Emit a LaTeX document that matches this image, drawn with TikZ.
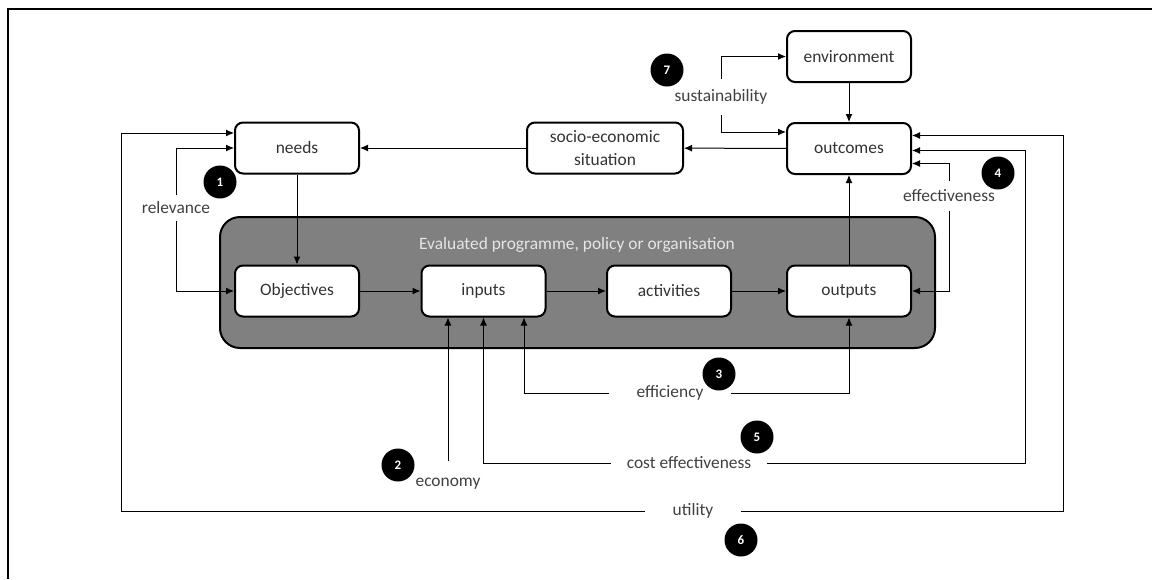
\documentclass[tikz,border=0pt]{standalone}
\usepackage{fontspec}
\setmainfont{Carlito}
\usetikzlibrary{arrows.meta}
\begin{document}
\begin{tikzpicture}[x=0.5pt,y=-0.5pt,
  every node/.style={font=\fontsize{8.7}{10}\selectfont},
  >={Latex[length=4pt,width=3.5pt]},
  every path/.style={line width=0.5pt},
  box/.style={draw=black,line width=1pt,fill=white,rounded corners=4pt,text=black!80,
    minimum width=62pt,minimum height=25.5pt,inner sep=0pt,align=center},
  crit/.style={text=black!75,inner xsep=1pt,inner ysep=1pt},
  num/.style={circle,fill=black,text=white,inner sep=0pt,minimum size=16.5pt,
    font=\fontsize{6.5}{7}\selectfont\bfseries}]
\useasboundingbox (0,0) rectangle (1152,579);
\draw[line width=0.75pt] (8,579) -- (8,9) -- (1152,9);

% evaluated programme
\draw[line width=1pt,fill=black!50,rounded corners=10pt] (220,217) rectangle (935,348);
\node[text=black!10] (progtitle) at (577,245) {Evaluated programme, policy or organisation};

\node[box] (obj) at (297,291) {Objectives};
\node[box] (inputs) at (483.5,291) {inputs};
\node[box] (activ) at (669,291) {activities};
\node[box] (outputs) at (849,291) {outputs};

% context
\node[box] (needs) at (297,148) {needs};
\node[box,minimum width=78pt,font=\fontsize{8.7}{11.5}\selectfont] (socio) at (605,148) {socio-economic\\situation};
\node[box] (outcomes) at (849,148.5) {outcomes};
\node[box] (env) at (849,56.5) {environment};

\draw[->] (needs) -- (obj);
\draw[->] (obj) -- (inputs);
\draw[->] (inputs) -- (activ);
\draw[->] (activ) -- (outputs);
\draw[->] (outputs) -- (outcomes);
\draw[->] (env) -- (outcomes);
\draw[->] (outcomes) -- (socio);
\draw[->] (socio) -- (needs);

% criteria
\node[crit,inner ysep=3.25pt] (relev) at (176,208) {relevance};
\node[crit,inner ysep=5.2pt] (sust) at (721,97) {sustainability};
\node[crit,inner ysep=4pt] (effect) at (949,196) {effectiveness};
\node[crit,inner xsep=13.5pt] (effic) at (670,393) {efficiency};
\node[crit,inner xsep=7.75pt] (coste) at (689,463) {cost effectiveness};
\node[crit,inner xsep=13.5pt] (util) at (693,511) {utility};
\node[crit] (econ) at (448,484) {economy};

\draw[->] (relev) |- (needs.west);
\draw[->] (relev) |- (obj.west);
\draw[->] (sust) |- (env.west);
\draw[->] (sust) |- ([yshift=8.25pt]outcomes.west);
\draw[->] (effect) |- ([yshift=-7.5pt]outcomes.east);
\draw[->] (effect) |- (outputs.east);
\draw[->] (effic) -| ([xshift=20.25pt]inputs.south);
\draw[->] (effic) -| (outputs.south);
\draw[->] (coste) -| (inputs.south);
\draw[->] (coste) -- (1025,463) |- ([yshift=-1pt]outcomes.east);
\draw[->] (util) -- (121,511) |- ([yshift=7.5pt]needs.west);
\draw[->] (util) -- (1063,511) |- ([yshift=6.5pt]outcomes.east);
\draw[->] ([yshift=11.5pt]econ.center) -- ([xshift=-17.75pt]inputs.south);

\node[num] (n1) at (220,182) {1};
\node[num] (n2) at (398,465) {2};
\node[num] (n3) at (719,374) {3};
\node[num] (n4) at (998,173) {4};
\node[num] (n5) at (757,437) {5};
\node[num] (n6) at (741,540) {6};
\node[num] (n7) at (667,70) {7};
\end{tikzpicture}
\end{document}
